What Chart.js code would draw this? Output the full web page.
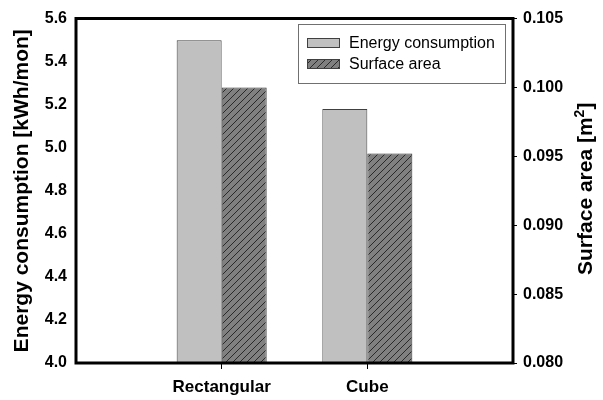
<!DOCTYPE html>
<html lang="en">
<head>
    <meta charset="UTF-8">
    <title>Energy consumption and surface area</title>
    <script src="https://cdn.jsdelivr.net/npm/chart.js@4.4.0/dist/chart.umd.min.js"></script>
    <style>
        body { margin: 0; background: #fff; }
        canvas { display: block; }
    </style>
</head>
<body>
    <canvas id="chart" width="603" height="400"></canvas>
    <script>
// blank labels at both ends so the two shapes sit at 1/3 and 2/3 of the width
const shapes = ['', 'Rectangular', 'Cube', ''];
const energy = [null, 5.50, 5.18, null];      // kWh/mon
const surface = [null, 0.1000, 0.0952, null]; // m2
const energyTicks = { min: 4.0, max: 5.6, step: 0.2 };
const surfaceTicks = { min: 0.080, max: 0.105, step: 0.005 };

const font = 'Liberation Sans, Arial, sans-serif';

// diagonal hatch for the surface area bars
function hatch() {
    const c = document.createElement('canvas');
    c.width = 7; c.height = 7;
    const g = c.getContext('2d');
    g.fillStyle = '#808080';
    g.fillRect(0, 0, 7, 7);
    g.strokeStyle = '#2a2a2a';
    g.lineWidth = 1;
    g.beginPath();
    g.moveTo(-1, 8); g.lineTo(8, -1);
    g.moveTo(-4.5, 4.5); g.lineTo(4.5, -4.5);
    g.moveTo(2.5, 11.5); g.lineTo(11.5, 2.5);
    g.stroke();
    return g.createPattern(c, 'repeat');
}
const hatchFill = hatch();

// heavy box round the plot area
const frame = {
    id: 'plotFrame',
    afterDraw(chart) {
        const c = chart.ctx;
        const a = chart.chartArea;
        c.save();
        c.strokeStyle = '#000';
        c.lineWidth = 3;
        c.beginPath();
        c.rect(a.left, a.top, a.right - a.left, a.bottom - a.top);
        c.stroke();
        c.restore();
    }
};

const boxLegend = {
    id: 'boxLegend',
    afterDraw(chart) {
        const c = chart.ctx;
        c.save();
        c.strokeStyle = '#707070';
        c.lineWidth = 1;
        c.strokeRect(298.5, 24.5, 207, 59);
        c.font = '16px ' + font;
        c.textBaseline = 'middle';
        chart.data.datasets.forEach((ds, i) => {
            const y = 43 + i * 21;
            c.fillStyle = ds.backgroundColor;
            c.fillRect(307, y - 5, 33, 10);
            c.strokeStyle = '#404040';
            c.strokeRect(307.5, y - 4.5, 32, 9);
            c.fillStyle = '#000';
            c.fillText(ds.label, 349, y + 1);
        });
        c.restore();
    }
};

// right axis title reads bottom to top and carries a superscript
const rightTitle = {
    id: 'rightTitle',
    afterDraw(chart) {
        const c = chart.ctx;
        const a = chart.chartArea;
        c.save();
        c.translate(592, (a.top + a.bottom) / 2 - 2);
        c.rotate(-Math.PI / 2);
        c.fillStyle = '#000';
        const big = 'bold 21px ' + font;
        const small = 'bold 14px ' + font;
        c.font = big;
        const w1 = c.measureText('Surface area [m').width;
        const w3 = c.measureText(']').width;
        c.font = small;
        const w2 = c.measureText('2').width;
        let x = -(w1 + w2 + w3) / 2;
        c.font = big;
        c.fillText('Surface area [m', x, 0);
        x += w1;
        c.font = small;
        c.fillText('2', x, -8);
        x += w2;
        c.font = big;
        c.fillText(']', x, 0);
        c.restore();
    }
};

new Chart(document.getElementById('chart'), {
    type: 'bar',
    data: {
        labels: shapes,
        datasets: [{
            label: 'Energy consumption',
            data: energy,
            yAxisID: 'y',
            backgroundColor: '#c0c0c0',
            borderColor: '#404040',
            borderWidth: 1
        }, {
            label: 'Surface area',
            data: surface,
            yAxisID: 'y1',
            backgroundColor: hatchFill,
            borderColor: '#303030',
            borderWidth: 1
        }]
    },
    options: {
        responsive: false,
        animation: false,
        categoryPercentage: 0.618,
        barPercentage: 1,
        layout: { padding: { top: 15 } },
        plugins: {
            legend: { display: false },
            tooltip: { enabled: false }
        },
        scales: {
            x: {
                offset: false,
                border: { display: false },
                grid: {
                    offset: false,
                    drawOnChartArea: false,
                    tickLength: 6,
                    tickColor: c => (c.index === 1 || c.index === 2) ? '#000' : 'rgba(0,0,0,0)'
                },
                ticks: {
                    color: '#000',
                    padding: 8,
                    maxRotation: 0,
                    font: { family: font, size: 17, weight: 'bold' }
                },
                afterFit: s => { s.height = 37; }
            },
            y: {
                position: 'left',
                min: energyTicks.min,
                max: energyTicks.max,
                border: { display: false },
                grid: { display: false, drawTicks: false },
                ticks: {
                    stepSize: energyTicks.step,
                    color: '#000',
                    padding: 9,
                    font: { family: font, size: 16, weight: 'bold' },
                    callback: v => v.toFixed(1)
                },
                title: {
                    display: true,
                    text: 'Energy consumption [kWh/mon]',
                    color: '#000',
                    padding: { top: 10 },
                    font: { family: font, size: 21, weight: 'bold' }
                },
                afterFit: s => { s.width = 76; }
            },
            y1: {
                position: 'right',
                min: surfaceTicks.min,
                max: surfaceTicks.max,
                border: { display: false },
                grid: { drawOnChartArea: false, tickLength: 4, color: '#000', lineWidth: 1 },
                ticks: {
                    stepSize: surfaceTicks.step,
                    color: '#000',
                    padding: 6,
                    font: { family: font, size: 16, weight: 'bold' },
                    callback: v => v.toFixed(3)
                },
                afterFit: s => { s.width = 90; }
            }
        }
    },
    plugins: [frame, boxLegend, rightTitle]
});
    </script>
</body>
</html>
